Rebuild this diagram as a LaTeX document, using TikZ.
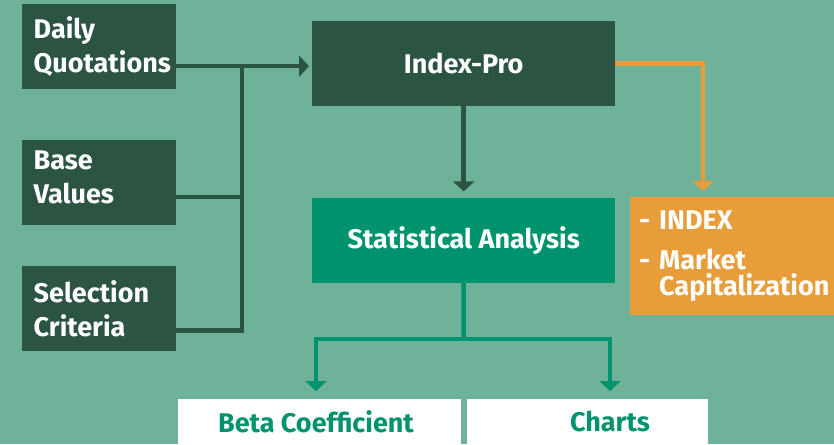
\documentclass[tikz,border=0pt]{standalone}
\usepackage{fontspec}
\setmainfont{Fira Sans}
\usepackage{xcolor}
\usepackage{tikz}
\usetikzlibrary{arrows.meta,positioning}
\definecolor{bggreen}{RGB}{111,178,154}
\definecolor{dkgreen}{RGB}{44,84,66}
\definecolor{mdgreen}{RGB}{0,147,110}
\definecolor{orangebox}{RGB}{232,156,58}

\begin{document}
\begin{tikzpicture}[x=1pt, y=-1pt, font=\bfseries\fontsize{27}{34}\selectfont,
    every node/.style={text=white, inner sep=0pt},
    inbox/.style={fill=dkgreen, minimum height=85pt, text width=131pt, inner xsep=11.5pt, align=left},
    mainbox/.style={minimum width=303pt, minimum height=85pt},
    outbox/.style={fill=white, minimum height=45pt},
    outtext/.style={text=mdgreen},
    conn/.style={line width=4.5pt},
    tip/.style={-{Triangle[width=21pt,length=10pt]}}]
    \fill[bggreen] (0,0) rectangle (834,444);
    \useasboundingbox (0,0) rectangle (834,444);
    \node[inbox, anchor=north west] (daily) at (22,4) {Daily\\Quotations};
    \node[inbox, below=50pt of daily] (base) {Base\\Values\par\vspace{9pt}};
    \node[inbox, below=41pt of base] (sel) {Selection\\Criteria};
    \node[mainbox, fill=dkgreen, anchor=north west] (inpro) at (312,21) {Index-Pro};
    \node[mainbox, fill=mdgreen, below=91pt of inpro] (stat) {Statistical Analysis};
    \node[fill=orangebox, anchor=north west, minimum width=204pt, minimum height=118pt,
        text width=186pt, inner xsep=9pt, align=left, font=\bfseries\fontsize{27}{26}\selectfont]
        (idx) at (630,197) {- INDEX\\[14pt]- Market\\\hphantom{- }Capitalization};
    \node[outbox, anchor=north west, minimum width=283pt] (betabox) at (178,399) {};
    \node[outbox, anchor=north west, minimum width=241pt] (chartbox) at (467,399) {};
    \node[outtext] (beta) at (316,421.5) {Beta Coefficient};
    \node[outtext] (charts) at (610,421.5) {Charts};
    \coordinate (join) at (242,66);
    \coordinate (fork) at (463.5,339);
    \draw[conn, dkgreen, tip, shorten >=3pt] ([yshift=-19.5pt]daily.east) -- ([yshift=-2.5pt]inpro.west);
    \draw[conn, dkgreen] ([yshift=-15pt]base.east) -| (join);
    \draw[conn, dkgreen] ([yshift=-22pt]sel.east) -| (join);
    \draw[conn, dkgreen, tip, shorten >=6pt] (inpro) -- (stat);
    \draw[conn, orangebox, tip, shorten >=6pt] (inpro.east) -| ([xshift=-29pt]idx.north);
    \draw[conn, mdgreen] (stat) -- (fork);
    \draw[conn, mdgreen, tip, shorten >=8pt] (fork) -| (beta |- betabox.north);
    \draw[conn, mdgreen, tip, shorten >=8pt] (fork) -| (charts |- chartbox.north);
\end{tikzpicture}
\end{document}
